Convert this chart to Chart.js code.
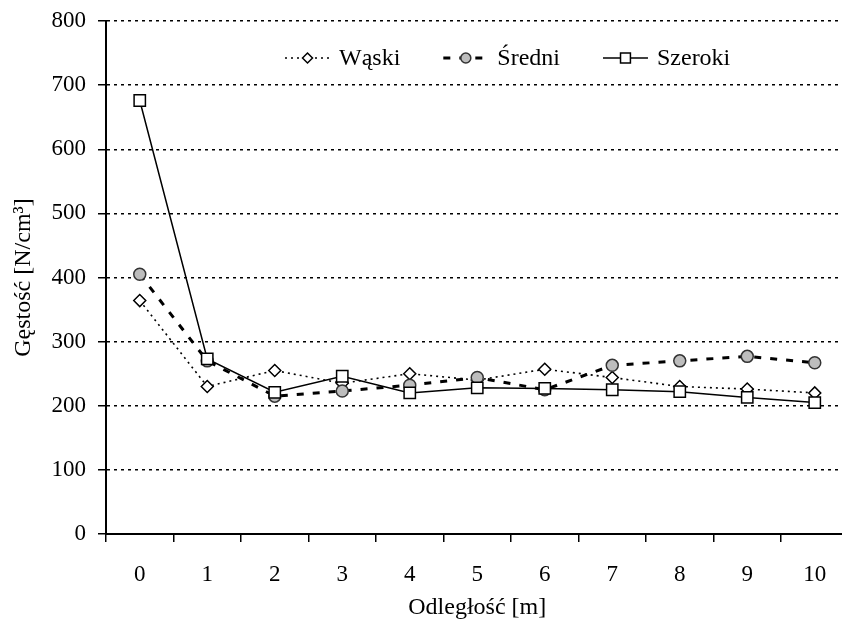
<!DOCTYPE html>
<html>
<head>
<meta charset="utf-8">
<script src="https://cdn.jsdelivr.net/npm/chart.js"></script>
<style>
  html, body { margin: 0; padding: 0; background: #fff; overflow: hidden; }
  canvas { display: block; }
</style>
</head>
<body>
<canvas id="chart" width="858" height="629"></canvas>
<script>
// distance categories [m]
const distances = ['0', '1', '2', '3', '4', '5', '6', '7', '8', '9', '10'];
// density values [N/cm3]
const waski   = [364, 230, 255, 235, 250, 240, 257, 244, 230, 226, 220];
const sredni  = [405, 270, 215, 223, 232, 244, 225, 263, 270, 277, 267];
const szeroki = [676, 273, 221, 246, 220, 228, 227, 225, 222, 213, 205];

const FONT = '"Liberation Serif", "DejaVu Serif", serif';

// legend drawn as line + marker + text, like the original
const legendPlugin = {
  id: 'lineLegend',
  afterDraw(chart) {
    const ctx = chart.ctx;
    const y = 58;
    let x = 285;
    const segLen = 45;
    ctx.save();
    ctx.font = '24px ' + FONT;
    ctx.textBaseline = 'middle';
    ctx.fillStyle = '#000';
    chart.data.datasets.forEach(ds => {
      ctx.save();
      ctx.strokeStyle = ds.borderColor;
      ctx.lineWidth = ds.borderWidth;
      ctx.setLineDash(ds.borderDash || []);
      ctx.beginPath();
      ctx.moveTo(x, y);
      ctx.lineTo(x + segLen, y);
      ctx.stroke();
      ctx.restore();
      ctx.save();
      ctx.fillStyle = ds.pointBackgroundColor;
      ctx.strokeStyle = ds.pointBorderColor;
      ctx.lineWidth = ds.pointBorderWidth;
      Chart.helpers.drawPoint(ctx, {
        pointStyle: ds.pointStyle, radius: ds.pointRadius - 1, rotation: 0, borderWidth: ds.pointBorderWidth
      }, x + segLen / 2, y);
      ctx.restore();
      ctx.fillText(ds.label, x + segLen + 9, y + 1);
      x += segLen + 9 + ctx.measureText(ds.label).width + 43;
    });
    ctx.restore();
  }
};

new Chart(document.getElementById('chart'), {
  type: 'line',
  data: {
    labels: distances,
    datasets: [{
      label: 'Wąski',
      data: waski,
      borderColor: '#000',
      borderWidth: 1.6,
      borderDash: [2, 4],
      pointStyle: 'rectRot',
      pointRadius: 6,
      pointBackgroundColor: '#fff',
      pointBorderColor: '#000',
      pointBorderWidth: 1.5,
      order: 3
    }, {
      label: 'Średni',
      data: sredni,
      borderColor: '#000',
      borderWidth: 3,
      borderDash: [7, 9],
      pointStyle: 'circle',
      pointRadius: 6,
      pointBackgroundColor: '#bdbdbd',
      pointBorderColor: '#333',
      pointBorderWidth: 1.5,
      order: 2
    }, {
      label: 'Szeroki',
      data: szeroki,
      borderColor: '#000',
      borderWidth: 1.5,
      pointStyle: 'rect',
      pointRadius: 8,
      pointBackgroundColor: '#fff',
      pointBorderColor: '#000',
      pointBorderWidth: 1.5,
      order: 1
    }]
  },
  options: {
    responsive: false,
    animation: false,
    layout: { padding: { top: 21, right: 0, left: 0, bottom: 0 } },
    elements: { line: { tension: 0 } },
    plugins: {
      legend: { display: false },
      tooltip: { enabled: false }
    },
    scales: {
      x: {
        type: 'category',
        offset: true,
        grid: {
          offset: true,
          drawOnChartArea: false,
          drawTicks: true,
          tickLength: 8,
          color: '#000',
          lineWidth: 1.5
        },
        border: { display: true, color: '#000', width: 2 },
        ticks: { color: '#000', font: { family: FONT, size: 23 }, padding: 19, maxRotation: 0 },
        title: {
          display: true,
          text: 'Odległość [m]',
          color: '#000',
          font: { family: FONT, size: 24 },
          padding: { top: 4, bottom: 7 }
        },
        afterFit(scale) { scale.height = 95; }
      },
      y: {
        min: 0,
        max: 800,
        ticks: { stepSize: 100, color: '#000', font: { family: FONT, size: 23, lineHeight: 0.6 }, padding: 12 },
        grid: {
          color: '#000',
          lineWidth: 1.5,
          drawTicks: true,
          tickLength: 8,
          tickBorderDash: []
        },
        border: { display: true, color: '#000', width: 2, dash: [3, 4] },
        title: {
          display: true,
          text: 'Gęstość [N/cm³]',
          color: '#000',
          font: { family: FONT, size: 24 },
          padding: { top: 9, bottom: 4 }
        },
        afterFit(scale) { scale.width = 106; }
      }
    }
  },
  plugins: [legendPlugin]
});
</script>
</body>
</html>
